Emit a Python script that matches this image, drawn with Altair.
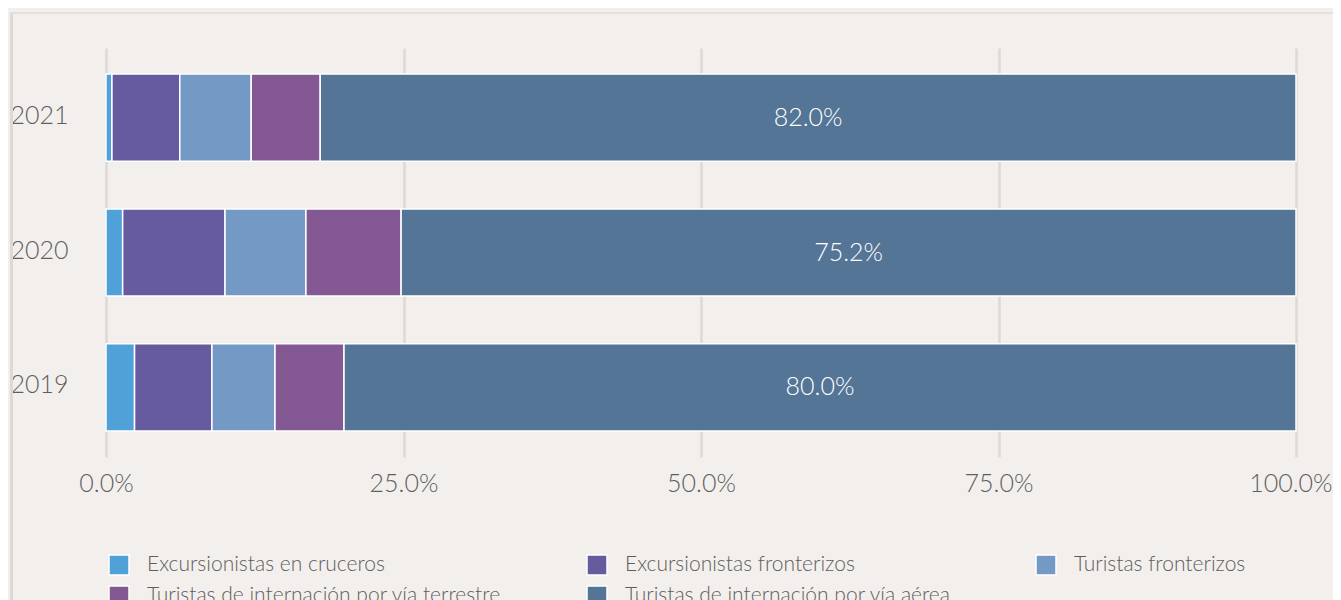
import altair as alt
import pandas as pd

years = ["2021", "2020", "2019"]
categories = [
    "Excursionistas en cruceros",
    "Excursionistas fronterizos",
    "Turistas fronterizos",
    "Turistas de internación por vía terrestre",
    "Turistas de internación por vía aérea",
]
cruceros = [0.5, 1.4, 2.4]
exc_fronterizos = [5.7, 8.6, 6.5]
tur_fronterizos = [6.0, 6.8, 5.3]
terrestre = [5.8, 8.0, 5.8]
aerea = [82.0, 75.2, 80.0]
colors = ["#4fa1d8", "#675ba0", "#7499c4", "#845993", "#557596"]
x_ticks = [0, 25, 50, 75, 100]

series = [cruceros, exc_fronterizos, tur_fronterizos, terrestre, aerea]
rows = []
for ci, (cat, vals) in enumerate(zip(categories, series)):
    for yi, yr in enumerate(years):
        rows.append({"year": yr, "cat": cat, "order": ci, "value": vals[yi]})
df = pd.DataFrame(rows)

FONT = "Lato"
TXT = "#5e5e5e"

y_enc = alt.Y("year:N", sort=years, title=None,
              scale=alt.Scale(paddingInner=0.354, paddingOuter=0.193),
              axis=alt.Axis(domain=False, ticks=False, tickSize=0, grid=False,
                            labelAlign="left", labelPadding=96, labelFontSize=25,
                            labelFont=FONT, labelFontWeight=300, labelColor=TXT,
                            labelBaseline="middle", labelOffset=-2))

bars = alt.Chart(df).mark_bar(stroke="white", strokeWidth=1.5).encode(
    x=alt.X("value:Q", stack="zero", title=None,
            scale=alt.Scale(domain=[0, 100], nice=False),
            axis=alt.Axis(values=x_ticks, domain=False, ticks=False, tickSize=0,
                          grid=True, gridColor="#dcd9d7", gridWidth=2.5,
                          labelExpr="format(datum.value, '.1f') + '%'",
                          labelAlign={"condition": {"test": "datum.value == 100", "value": "right"},
                                      "value": "center"},
                          labelOffset={"condition": {"test": "datum.value == 100", "value": 36},
                                       "value": 0},
                          labelFontSize=25, labelFont=FONT, labelFontWeight=300,
                          labelColor=TXT, labelPadding=14, labelFlush=False)),
    y=y_enc,
    color=alt.Color("cat:N", scale=alt.Scale(domain=categories, range=colors),
                    legend=alt.Legend(title=None, orient="none", legendX=2, legendY=506,
                                      direction="horizontal",
                                      columns=3, columnPadding=82, rowPadding=5,
                                      symbolType="square", symbolSize=400,
                                      symbolStrokeColor="white", symbolStrokeWidth=1.5,
                                      symbolOpacity=1,
                                      labelFontSize=21, labelFont=FONT, labelFontWeight=300,
                                      labelColor=TXT, labelOffset=17, padding=0,
                                      labelLimit=600)),
    order=alt.Order("order:Q"),
)

labels = alt.Chart(df).transform_stack(
    stack="value", groupby=["year"], as_=["x0", "x1"],
    sort=[alt.SortField("order", order="ascending")],
).transform_filter(
    alt.datum.order == 4
).transform_calculate(
    mid="(datum.x0 + datum.x1) / 2",
    lbl="format(datum.value, '.1f') + '%'",
).mark_text(color="white", fontSize=25, font=FONT, fontWeight=300, baseline="middle").encode(
    x=alt.X("mid:Q"),
    y=alt.Y("year:N", sort=years),
    text="lbl:N",
)

frame_data = alt.Data(values=[{"k": 0}])
frame_left = alt.Chart(frame_data).mark_rule(color="#dcd9d7", strokeWidth=3).encode(
    x=alt.value(-94.5), y=alt.value(-35), y2=alt.value(700))
frame_top = alt.Chart(frame_data).mark_rule(color="#dedbd9", strokeWidth=1.5).encode(
    x=alt.value(-96), x2=alt.value(1240), y=alt.value(-35))

chart = alt.layer(frame_left, frame_top, bars, labels).properties(
    width=1190, height=409,
    autosize=alt.AutoSizeParams(type="none"),
    padding={"left": 98, "top": 40, "right": 37, "bottom": 150},
    background="#f3efec",
).configure_view(strokeWidth=0)

chart.save("out.html", embed_options={"renderer": "svg", "actions": False})
